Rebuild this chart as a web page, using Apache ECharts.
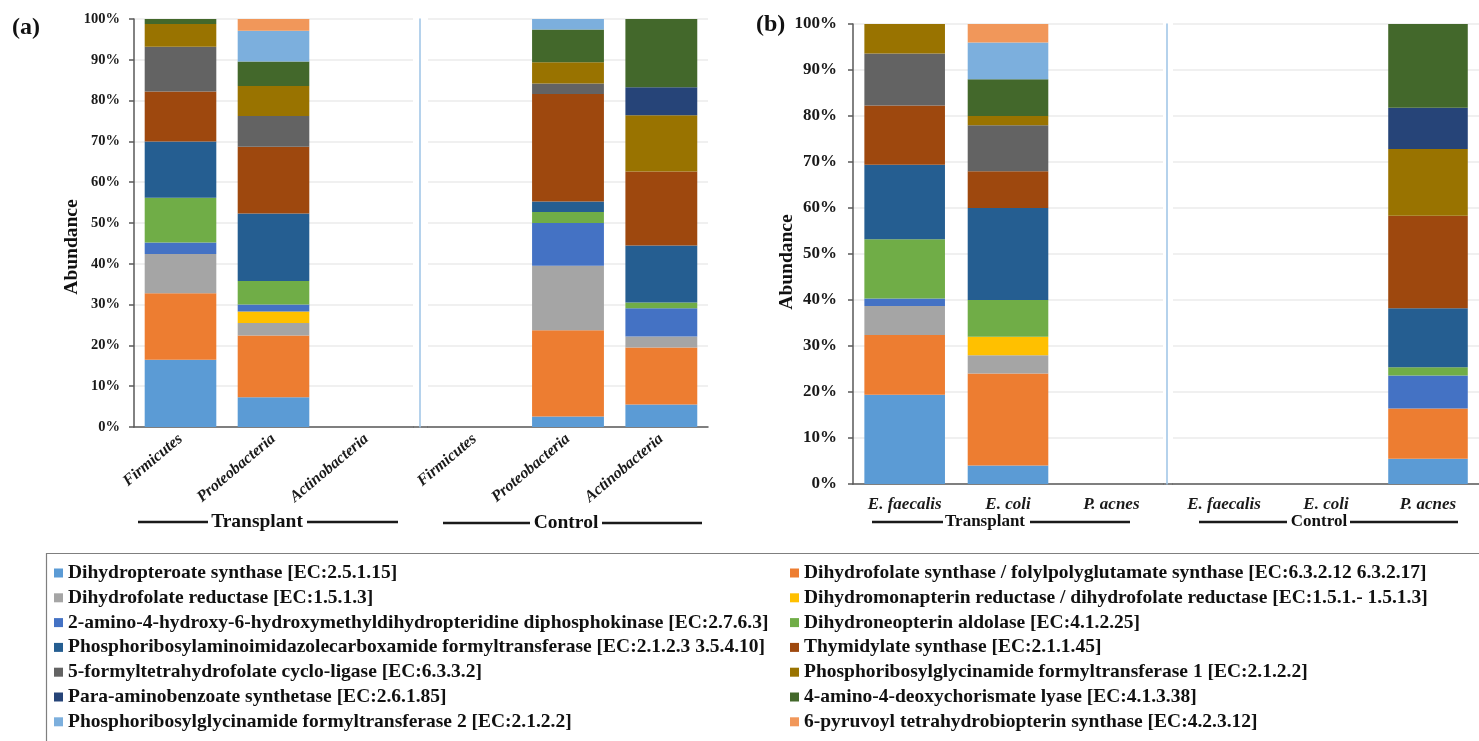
<!DOCTYPE html>
<html>
<head>
<meta charset="utf-8">
<script src="https://cdn.jsdelivr.net/npm/echarts@6/dist/echarts.min.js"></script>
<style>
  html, body { margin: 0; padding: 0; background: #ffffff; }
  #chart { width: 1479px; height: 741px; }
</style>
</head>
<body>
<div id="chart"></div>
<script>
// Enzymes of the folate pathway, in stacking (and legend) order
const enzymes = [
  'Dihydropteroate synthase [EC:2.5.1.15]',
  'Dihydrofolate synthase / folylpolyglutamate synthase [EC:6.3.2.12 6.3.2.17]',
  'Dihydrofolate reductase [EC:1.5.1.3]',
  'Dihydromonapterin reductase / dihydrofolate reductase [EC:1.5.1.- 1.5.1.3]',
  '2-amino-4-hydroxy-6-hydroxymethyldihydropteridine diphosphokinase [EC:2.7.6.3]',
  'Dihydroneopterin aldolase [EC:4.1.2.25]',
  'Phosphoribosylaminoimidazolecarboxamide formyltransferase [EC:2.1.2.3 3.5.4.10]',
  'Thymidylate synthase [EC:2.1.1.45]',
  '5-formyltetrahydrofolate cyclo-ligase [EC:6.3.3.2]',
  'Phosphoribosylglycinamide formyltransferase 1 [EC:2.1.2.2]',
  'Para-aminobenzoate synthetase [EC:2.6.1.85]',
  '4-amino-4-deoxychorismate lyase [EC:4.1.3.38]',
  'Phosphoribosylglycinamide formyltransferase 2 [EC:2.1.2.2]',
  '6-pyruvoyl tetrahydrobiopterin synthase [EC:4.2.3.12]'
];

const enzymeColors = [
  '#5B9BD5', '#ED7D31', '#A5A5A5', '#FFC000', '#4472C4', '#70AD47', '#255E91',
  '#9E480E', '#636363', '#997300', '#264478', '#43682B', '#7CAFDD', '#F1975A'
];

// Category labels
const phyla = ['Firmicutes', 'Proteobacteria', 'Actinobacteria'];
const species = ['E. faecalis', 'E. coli', 'P. acnes'];
const groups = ['Transplant', 'Control'];

// Percentage axis ticks
const yMin = 0;
const yMax = 100;
const yStep = 10;

// Panel (a): relative abundance (%) per phylum, entries follow enzyme order
const aTransplantFirmicutes     = [16.5, 16.3, 9.6, 0, 2.8, 11.0, 13.8, 12.2, 11.0, 5.6, 0, 1.2, 0, 0];
const aTransplantProteobacteria = [7.3, 15.1, 3.1, 2.8, 1.7, 5.8, 16.5, 16.4, 7.5, 7.4, 0, 6.0, 7.5, 2.9];
const aTransplantActinobacteria = [0, 0, 0, 0, 0, 0, 0, 0, 0, 0, 0, 0, 0, 0];
const aControlFirmicutes        = [0, 0, 0, 0, 0, 0, 0, 0, 0, 0, 0, 0, 0, 0];
const aControlProteobacteria    = [2.6, 21.1, 15.8, 0, 10.5, 2.7, 2.6, 26.3, 2.6, 5.2, 0, 8.0, 2.6, 0];
const aControlActinobacteria    = [5.5, 14.0, 2.7, 0, 6.9, 1.4, 14.0, 18.1, 0, 13.8, 6.9, 16.7, 0, 0];

// Panel (b): relative abundance (%) per species, entries follow enzyme order
const bTransplantEfaecalis = [19.4, 13.0, 6.3, 0, 1.6, 12.9, 16.2, 12.9, 11.3, 6.4, 0, 0, 0, 0];
const bTransplantEcoli     = [4.0, 20.0, 4.0, 4.0, 0, 8.0, 20.0, 8.0, 10.0, 2.0, 0, 8.0, 8.0, 4.0];
const bTransplantPacnes    = [0, 0, 0, 0, 0, 0, 0, 0, 0, 0, 0, 0, 0, 0];
const bControlEfaecalis    = [0, 0, 0, 0, 0, 0, 0, 0, 0, 0, 0, 0, 0, 0];
const bControlEcoli        = [0, 0, 0, 0, 0, 0, 0, 0, 0, 0, 0, 0, 0, 0];
const bControlPacnes       = [5.5, 10.9, 0, 0, 7.2, 1.8, 12.8, 20.1, 0, 14.5, 9.0, 18.2, 0, 0];

const SERIF = '"Liberation Serif", "Times New Roman", serif';
const AXIS_COLOR = '#595959';
const GRID_LINE = '#ebebeb';
const SEP_COLOR = '#9DC3E6';

// Plot areas: two per panel (transplant | control)
const panels = [
  { grid: { left: 134, top: 19, width: 279, height: 408 }, cats: phyla, bars: [aTransplantFirmicutes, aTransplantProteobacteria, aTransplantActinobacteria], main: true, panel: 'a' },
  { grid: { left: 428, top: 19, width: 280, height: 408 }, cats: phyla, bars: [aControlFirmicutes, aControlProteobacteria, aControlActinobacteria], main: false, panel: 'a' },
  { grid: { left: 853, top: 24, width: 310, height: 460 }, cats: species, bars: [bTransplantEfaecalis, bTransplantEcoli, bTransplantPacnes], main: true, panel: 'b' },
  { grid: { left: 1173, top: 24, width: 309, height: 460 }, cats: species, bars: [bControlEfaecalis, bControlEcoli, bControlPacnes], main: false, panel: 'b' }
];

const grid = panels.map(p => Object.assign({ containLabel: false }, p.grid));

const xAxis = panels.map((p, gi) => ({
  type: 'category',
  gridIndex: gi,
  data: p.cats,
  axisLine: { lineStyle: { color: AXIS_COLOR, width: 1.5 } },
  axisTick: { alignWithLabel: false, interval: 0, length: 5, lineStyle: { color: AXIS_COLOR, width: 1.5 } },
  axisLabel: p.panel === 'a'
    ? { interval: 0, rotate: 40, margin: 10, color: '#1a1a1a', fontFamily: SERIF, fontWeight: 'bold', fontStyle: 'italic', fontSize: 16 }
    : { interval: 0, margin: 12, color: '#1a1a1a', fontFamily: SERIF, fontWeight: 'bold', fontStyle: 'italic', fontSize: 17 }
}));

const yAxis = panels.map((p, gi) => ({
  type: 'value',
  gridIndex: gi,
  min: yMin,
  max: yMax,
  interval: yStep,
  offset: p.main ? 0 : (p.panel === 'a' ? 8 : 6),
  axisLine: { show: true, lineStyle: { color: p.main ? AXIS_COLOR : SEP_COLOR, width: p.main ? 1.5 : 1.5 } },
  axisTick: { show: p.main, length: 5, lineStyle: { color: AXIS_COLOR, width: 1.5 } },
  axisLabel: {
    show: p.main,
    formatter: '{value}%',
    margin: p.panel === 'a' ? 14 : 16,
    color: '#1a1a1a',
    fontFamily: SERIF,
    fontWeight: 'bold',
    fontSize: p.panel === 'a' ? 14.5 : 17
  },
  splitLine: { show: true, lineStyle: { color: GRID_LINE, width: 1.5 } }
}));

const series = [];
panels.forEach((p, gi) => {
  enzymes.forEach((name, ei) => {
    series.push({
      name: name,
      type: 'bar',
      xAxisIndex: gi,
      yAxisIndex: gi,
      stack: 'plot' + gi,
      barWidth: p.panel === 'a' ? '77%' : '78%',
      itemStyle: { color: enzymeColors[ei] },
      emphasis: { disabled: true },
      data: p.bars.map(col => col[ei])
    });
  });
});

const legendText = { fontFamily: SERIF, fontWeight: 'bold', fontSize: 19.5, lineHeight: 20, color: '#111111' };
const legend = [
  { data: enzymes.filter((_, i) => i % 2 === 0), left: 54, top: 563 },
  { data: enzymes.filter((_, i) => i % 2 === 1), left: 790, top: 563 }
].map(l => Object.assign(l, {
  orient: 'vertical', icon: 'rect', itemWidth: 9, itemHeight: 9, itemGap: 4.8,
  padding: 0, selectedMode: false, textStyle: legendText
}));

// Group captions under the category axes, flanked by rules
function groupCaption(text, cx, cy, size, l1, l2, r1, r2) {
  const rule = (x1, x2) => ({
    type: 'line', silent: true,
    shape: { x1: x1, y1: cy, x2: x2, y2: cy },
    style: { stroke: '#1a1a1a', lineWidth: 2.5 }
  });
  return [
    rule(l1, l2), rule(r1, r2),
    { type: 'text', silent: true, x: cx, y: cy,
      style: { text: text, font: 'bold ' + size + 'px ' + SERIF, fill: '#111111', align: 'center', verticalAlign: 'middle' } }
  ];
}

function axisTitle(x, y) {
  return { type: 'text', silent: true, x: x, y: y, rotation: Math.PI / 2,
    style: { text: 'Abundance', font: 'bold 19.5px ' + SERIF, fill: '#111111', align: 'center', verticalAlign: 'middle' } };
}

function panelTag(text, x, y) {
  return { type: 'text', silent: true, x: x, y: y,
    style: { text: text, font: 'bold 24px ' + SERIF, fill: '#111111', align: 'left', verticalAlign: 'middle' } };
}

function gapLine(x1, x2, y) {
  return { type: 'line', silent: true, shape: { x1: x1, y1: y, x2: x2, y2: y }, style: { stroke: AXIS_COLOR, lineWidth: 1.5 } };
}

const graphic = [
  panelTag('(a)', 12, 28),
  panelTag('(b)', 756, 25),
  axisTitle(72, 247),
  axisTitle(787, 262),
  gapLine(413, 428, 427),
  gapLine(1163, 1173, 484),
  ...groupCaption(groups[0], 257, 522, 19.5, 138, 208, 307, 398),
  ...groupCaption(groups[1], 566, 523, 19.5, 443, 530, 602, 702),
  ...groupCaption(groups[0], 985, 522, 17, 872, 943, 1030, 1130),
  ...groupCaption(groups[1], 1319, 522, 17, 1199, 1287, 1350, 1458),
  { type: 'rect', silent: true, shape: { x: 46.5, y: 553.5, width: 1460, height: 200 },
    style: { fill: 'none', stroke: '#7f7f7f', lineWidth: 1.2 } }
];

const chart = echarts.init(document.getElementById('chart'), null, { renderer: 'canvas' });
chart.setOption({
  backgroundColor: '#ffffff',
  animation: false,
  grid: grid,
  xAxis: xAxis,
  yAxis: yAxis,
  legend: legend,
  series: series,
  graphic: graphic
});
</script>
</body>
</html>
